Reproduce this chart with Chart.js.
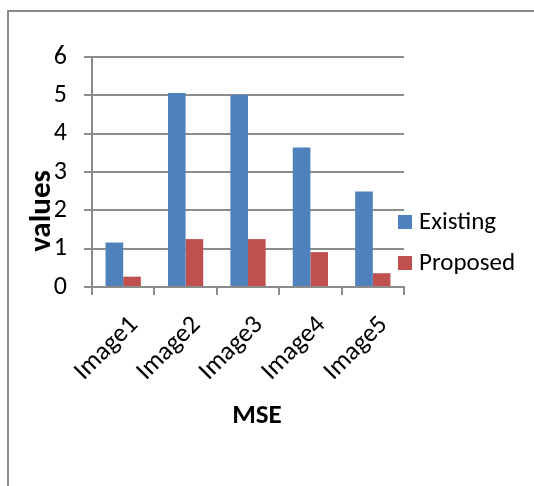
<!DOCTYPE html>
<html>
<head>
<meta charset="utf-8">
<script src="https://cdn.jsdelivr.net/npm/chart.js@4.4.1/dist/chart.umd.min.js"></script>
<style>
  html, body { margin: 0; padding: 0; background: #fff; overflow: hidden; }
  #frame { position: absolute; left: 7px; top: 10px; width: 600px; height: 600px; border: 2px solid #8c8c8c; }
  #wrap { position: absolute; left: 0; top: 0; width: 534px; height: 486px; }
</style>
</head>
<body>
<div id="frame"></div>
<div id="wrap"><canvas id="chart" width="534" height="486"></canvas></div>
<script>
const categories = ["Image1", "Image2", "Image3", "Image4", "Image5"];
const existing = [1.16, 5.06, 5.01, 3.64, 2.49];
const proposed = [0.27, 1.25, 1.25, 0.91, 0.36];
const seriesNames = ["Existing", "Proposed"];
const xTitle = "MSE";
const yTitle = "values";

const FONT = "Carlito, Lato, sans-serif";
const gridColor = "#8c8c8c";

// axis titles + legend drawn by hand so they can sit where the original puts them
const extras = {
  id: "extras",
  afterDraw(chart) {
    const ctx = chart.ctx;
    ctx.save();
    ctx.fillStyle = "#000";
    ctx.textAlign = "center";
    ctx.textBaseline = "middle";
    ctx.font = "bold 27px " + FONT;
    ctx.fillText(xTitle, 257, 416);
    ctx.font = "bold 31px " + FONT;
    ctx.translate(42, 211);
    ctx.rotate(-Math.PI / 2);
    ctx.fillText(yTitle, 0, 0);
    ctx.restore();

    ctx.save();
    ctx.font = "25px " + FONT;
    ctx.textBaseline = "middle";
    chart.data.datasets.forEach((ds, i) => {
      const y = 222 + i * 41;
      ctx.fillStyle = ds.backgroundColor;
      ctx.fillRect(398, y - 7, 14, 14);
      ctx.fillStyle = "#000";
      ctx.fillText(ds.label, 419, y + 1);
    });
    ctx.restore();
  }
};

new Chart(document.getElementById("chart"), {
  type: "bar",
  data: {
    labels: categories,
    datasets: [
      { label: seriesNames[0], data: existing, backgroundColor: "#4f81bd" },
      { label: seriesNames[1], data: proposed, backgroundColor: "#c0504d" },
    ],
  },
  options: {
    responsive: false,
    animation: false,
    layout: { padding: { left: 0, top: 57, right: 130, bottom: 0 } },
    datasets: { bar: { categoryPercentage: 0.565, barPercentage: 1 } },
    plugins: { legend: { display: false }, tooltip: { enabled: false } },
    scales: {
      x: {
        afterFit: (s) => { s.height = 199; },
        grid: { display: true, drawOnChartArea: false, drawTicks: true, tickLength: 8, color: gridColor, lineWidth: 2, offset: true },
        border: { color: gridColor, width: 2 },
        ticks: { minRotation: 45, maxRotation: 45, padding: 15, labelOffset: 11, color: "#000", font: { family: FONT, size: 26 } },
      },
      y: {
        min: 0,
        max: 6,
        afterFit: (s) => { s.width = 92; },
        grid: { color: gridColor, lineWidth: 2, tickLength: 8 },
        border: { color: gridColor, width: 2 },
        ticks: { stepSize: 1, padding: 17, color: "#000", font: { family: FONT, size: 26 } },
      },
    },
  },
  plugins: [extras],
});
</script>
</body>
</html>
